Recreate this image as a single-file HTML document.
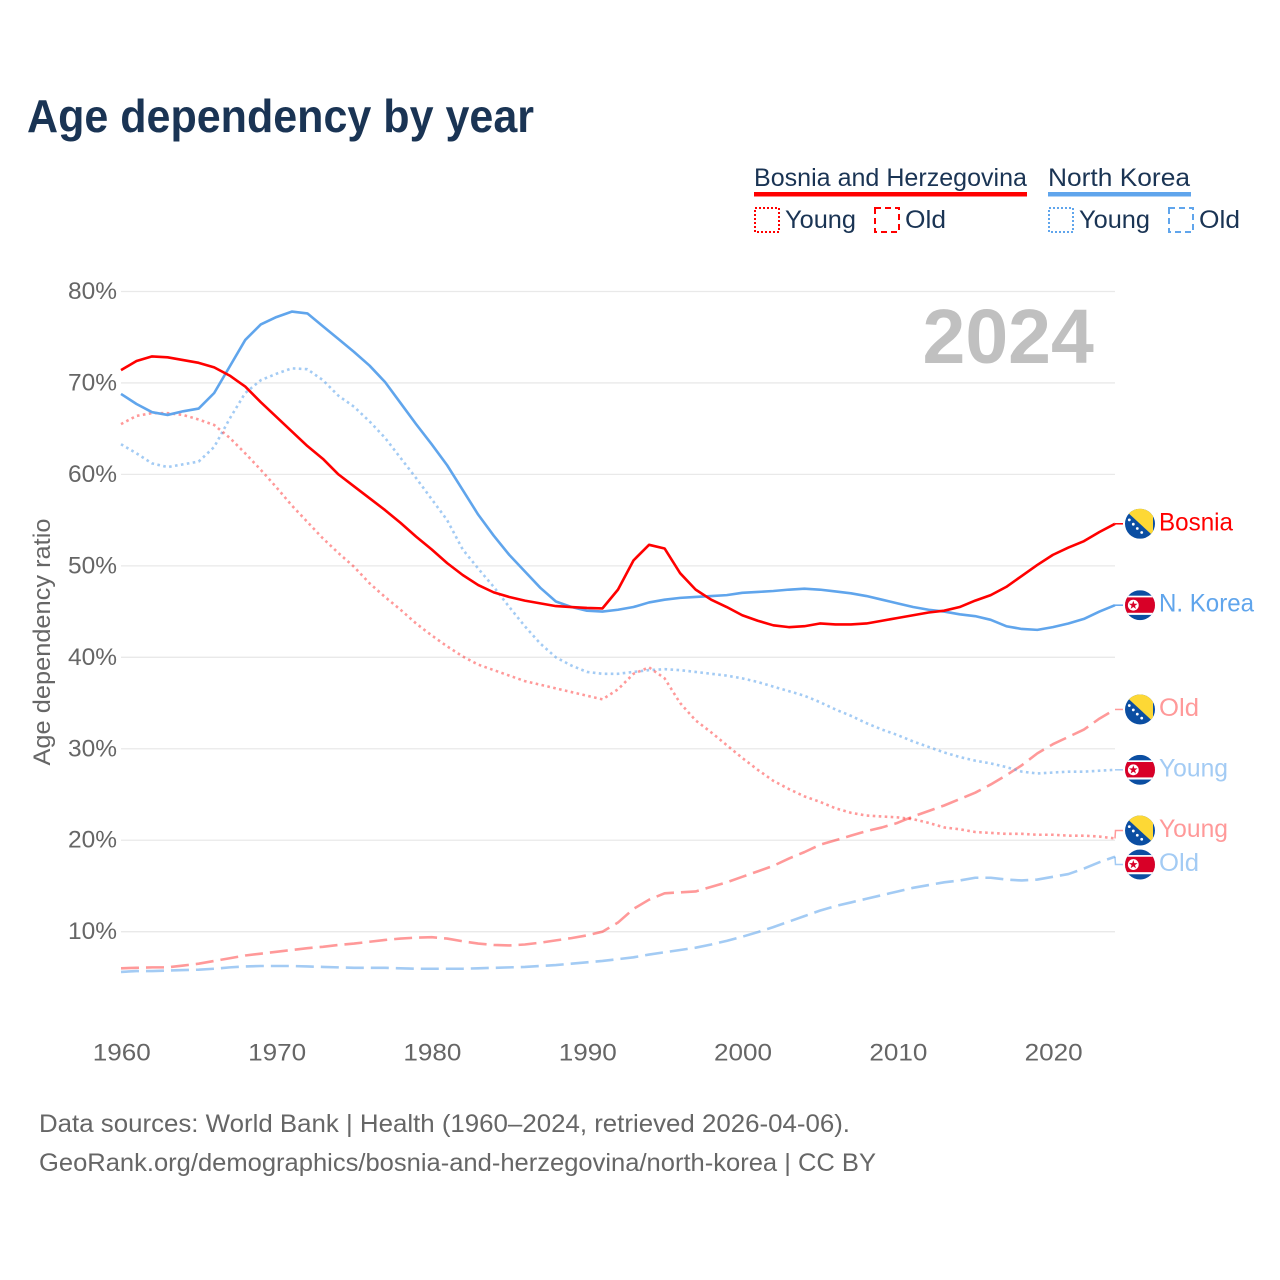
<!DOCTYPE html>
<html lang="en">
<head>
<meta charset="utf-8">
<title>Age dependency by year</title>
<style>
html,body{margin:0;padding:0;background:#fff;}
svg{display:block;font-family:"Liberation Sans",sans-serif;}
</style>
</head>
<body>
<svg id="chart" width="1280" height="1280" viewBox="0 0 1280 1280" xmlns="http://www.w3.org/2000/svg">
<defs>
<clipPath id="flag-clip"><circle cx="0" cy="0" r="15"/></clipPath>
<g id="flag-ba" clip-path="url(#flag-clip)">
<rect x="-15" y="-15" width="30" height="30" fill="#0b4ea2"/>
<polygon points="-20,-18.4 13,-18.4 13,12" fill="#fdd835"/>
<circle cx="-10.7" cy="-3.9" r="1.4" fill="#fff"/>
<circle cx="-6.7" cy="0.4" r="1.4" fill="#fff"/>
<circle cx="-2.7" cy="4.7" r="1.4" fill="#fff"/>
<circle cx="1.7" cy="8.7" r="1.4" fill="#fff"/>
</g>
<g id="flag-kp" clip-path="url(#flag-clip)">
<rect x="-15" y="-15" width="30" height="30" fill="#0b4ea2"/>
<rect x="-15" y="-9.5" width="30" height="19.2" fill="#fff"/>
<rect x="-15" y="-7.8" width="30" height="15.4" fill="#d80027"/>
<circle cx="-6.7" cy="0" r="5.4" fill="#fff"/>
<polygon transform="translate(-6.7,0)" points="0,-4.5 1.06,-1.46 4.28,-1.39 1.71,0.56 2.65,3.64 0,1.8 -2.65,3.64 -1.71,0.56 -4.28,-1.39 -1.06,-1.46" fill="#d80027"/>
</g>
</defs>

<rect x="0" y="0" width="1280" height="1280" fill="#fff"/>

<text x="27" y="132" font-size="46" font-weight="700" fill="#1a3454" textLength="507" lengthAdjust="spacingAndGlyphs">Age dependency by year</text>

<g>
<text x="754" y="186" font-size="25" fill="#1a3454" textLength="273" lengthAdjust="spacingAndGlyphs">Bosnia and Herzegovina</text>
<rect x="754" y="192" width="273" height="4.5" fill="#ff0000"/>
<rect x="755" y="208" width="24" height="24" fill="none" stroke="#ff0000" stroke-width="2" stroke-dasharray="2 2"/>
<text x="785" y="228" font-size="25" fill="#1a3454" textLength="71" lengthAdjust="spacingAndGlyphs">Young</text>
<rect x="875" y="208" width="24" height="24" fill="none" stroke="#ff0000" stroke-width="2" stroke-dasharray="6 4"/>
<text x="905" y="228" font-size="25" fill="#1a3454" textLength="41" lengthAdjust="spacingAndGlyphs">Old</text>

<text x="1048" y="186" font-size="25" fill="#1a3454" textLength="142" lengthAdjust="spacingAndGlyphs">North Korea</text>
<rect x="1048" y="192" width="143" height="4.5" fill="#60a5ec"/>
<rect x="1049" y="208" width="24" height="24" fill="none" stroke="#60a5ec" stroke-width="2" stroke-dasharray="2 2"/>
<text x="1079" y="228" font-size="25" fill="#1a3454" textLength="71" lengthAdjust="spacingAndGlyphs">Young</text>
<rect x="1169" y="208" width="24" height="24" fill="none" stroke="#60a5ec" stroke-width="2" stroke-dasharray="6 4"/>
<text x="1199" y="228" font-size="25" fill="#1a3454" textLength="41" lengthAdjust="spacingAndGlyphs">Old</text>
</g>

<g id="grid"></g>
<g id="yticks"></g>
<g id="xticks"></g>

<text transform="translate(50,642) rotate(-90)" text-anchor="middle" font-size="24" fill="#666" textLength="247" lengthAdjust="spacingAndGlyphs">Age dependency ratio</text>

<text x="922.5" y="363" font-size="77" font-weight="700" fill="#c0c0c0">2024</text>

<g id="series"></g>
<g id="endlabels"></g>

<text x="39" y="1132" font-size="25" fill="#666" textLength="811" lengthAdjust="spacingAndGlyphs">Data sources: World Bank | Health (1960–2024, retrieved 2026-04-06).</text>
<text x="39" y="1171" font-size="25" fill="#666" textLength="837" lengthAdjust="spacingAndGlyphs">GeoRank.org/demographics/bosnia-and-herzegovina/north-korea | CC BY</text>
</svg>

<script>
const startYear = 1960;
const yTickValues = [10, 20, 30, 40, 50, 60, 70, 80];
const xTickValues = [1960, 1970, 1980, 1990, 2000, 2010, 2020];

const bosniaTotal = [71.4,72.4,72.9,72.8,72.5,72.2,71.7,70.8,69.6,67.9,66.3,64.7,63.1,61.7,60.0,58.7,57.4,56.1,54.7,53.2,51.8,50.3,49.0,47.9,47.1,46.6,46.2,45.9,45.6,45.5,45.4,45.35,47.4,50.6,52.3,51.9,49.2,47.4,46.3,45.5,44.6,44.0,43.5,43.3,43.4,43.7,43.6,43.6,43.7,44.0,44.3,44.6,44.9,45.1,45.5,46.2,46.8,47.7,48.9,50.1,51.2,52.0,52.7,53.7,54.6];
const koreaTotal = [68.8,67.7,66.8,66.5,66.9,67.2,68.9,71.8,74.7,76.4,77.2,77.8,77.6,76.2,74.8,73.4,71.9,70.1,67.8,65.5,63.3,61.0,58.3,55.6,53.3,51.2,49.4,47.6,46.1,45.5,45.1,45.0,45.2,45.5,46.0,46.3,46.5,46.6,46.7,46.8,47.05,47.15,47.25,47.4,47.5,47.4,47.2,47.0,46.7,46.3,45.9,45.5,45.2,45.0,44.7,44.5,44.1,43.4,43.1,43.0,43.3,43.7,44.2,45.0,45.7];
const bosniaYoung = [65.5,66.4,66.7,66.7,66.5,66.0,65.4,64.0,62.3,60.5,58.6,56.6,54.8,53.0,51.4,49.9,48.1,46.6,45.2,43.7,42.4,41.2,40.1,39.2,38.6,38.0,37.4,37.0,36.6,36.2,35.8,35.4,36.5,38.2,38.9,37.7,35.0,33.1,31.8,30.4,29.0,27.7,26.5,25.6,24.8,24.2,23.5,23.0,22.7,22.6,22.5,22.3,21.9,21.4,21.2,20.9,20.8,20.7,20.7,20.6,20.6,20.5,20.5,20.4,20.2];
const koreaYoung = [63.3,62.3,61.2,60.8,61.1,61.4,63.0,66.1,68.9,70.3,71.0,71.6,71.5,70.3,68.6,67.4,65.8,64.0,61.8,59.6,57.3,55.0,51.8,49.7,47.7,45.5,43.4,41.5,40.0,39.1,38.4,38.2,38.2,38.4,38.6,38.7,38.6,38.4,38.2,38.0,37.7,37.3,36.8,36.3,35.8,35.1,34.3,33.6,32.8,32.1,31.5,30.8,30.2,29.6,29.1,28.7,28.4,28.0,27.5,27.3,27.4,27.5,27.5,27.6,27.7];
const bosniaOld = [6.0,6.05,6.1,6.1,6.3,6.5,6.8,7.1,7.4,7.6,7.8,8.0,8.2,8.35,8.55,8.7,8.9,9.1,9.25,9.35,9.4,9.25,8.95,8.7,8.55,8.5,8.6,8.8,9.05,9.3,9.6,10.0,11.0,12.5,13.5,14.2,14.3,14.4,14.9,15.4,16.0,16.6,17.2,18.0,18.7,19.5,20.0,20.5,21.0,21.4,21.9,22.6,23.2,23.8,24.5,25.2,26.1,27.1,28.2,29.5,30.5,31.3,32.1,33.3,34.3];
const koreaOld = [5.6,5.7,5.7,5.75,5.8,5.85,5.95,6.1,6.2,6.25,6.25,6.25,6.2,6.15,6.1,6.05,6.05,6.05,6.0,5.95,5.95,5.95,5.95,6.0,6.05,6.1,6.15,6.25,6.35,6.5,6.65,6.8,7.0,7.2,7.5,7.75,8.0,8.25,8.6,9.0,9.45,9.95,10.5,11.1,11.7,12.3,12.8,13.2,13.6,14.0,14.4,14.8,15.1,15.4,15.6,15.9,15.9,15.7,15.6,15.7,16.0,16.3,16.9,17.6,18.2];

const NS = "http://www.w3.org/2000/svg";
function xScale(year) { return 121 + (year - 1960) * 15.531; }
function yScale(v) { return 931.7 - (v - 10) * 9.146; }
function make(tag, attrs, parent) {
  const el = document.createElementNS(NS, tag);
  for (const k in attrs) el.setAttribute(k, attrs[k]);
  parent.appendChild(el);
  return el;
}

const gridG = document.getElementById('grid');
const yG = document.getElementById('yticks');
yTickValues.forEach(function (v) {
  const line = make('line', {x1: 121, x2: 1115, y1: yScale(v), y2: yScale(v), stroke: '#e9e9e9', 'stroke-width': 1.3}, gridG);
  
  
  const t = make('text', {x: 117, y: yScale(v) + 7.5, 'text-anchor': 'end', 'font-size': 24, fill: '#666', textLength: 49, lengthAdjust: 'spacingAndGlyphs'}, yG);
  
  
  t.textContent = v + '%';
});

const xG = document.getElementById('xticks');
xTickValues.forEach(function (year) {
  const t = make('text', {x: xScale(year) + 0.8, y: 1060.5, 'text-anchor': 'middle', 'font-size': 24, fill: '#666', textLength: 58, lengthAdjust: 'spacingAndGlyphs'}, xG);
  
  
  t.textContent = String(year);
});

const seriesG = document.getElementById('series');
function drawLine(values, name, color, opacity, width, dash) {
  const pts = values.map(function (v, i) { return xScale(startYear + i).toFixed(2) + ',' + yScale(v).toFixed(2); }).join(' ');
  const attrs = {points: pts, fill: 'none', stroke: color, 'stroke-opacity': opacity, 'stroke-width': width, 'stroke-linejoin': 'round'};
  if (dash) attrs['stroke-dasharray'] = dash;
  const el = make('polyline', attrs, seriesG);
  
  
}
drawLine(koreaOld, 'line-north-korea-old', '#60a5ec', 0.58, 2.6, '18 7');
drawLine(bosniaOld, 'line-bosnia-old', '#ff0000', 0.4, 2.6, '18 7');
drawLine(koreaYoung, 'line-north-korea-young', '#60a5ec', 0.58, 2.6, '2.6 3.4');
drawLine(bosniaYoung, 'line-bosnia-young', '#ff0000', 0.4, 2.6, '2.6 3.4');
drawLine(koreaTotal, 'line-north-korea-total', '#60a5ec', 1, 2.6, null);
drawLine(bosniaTotal, 'line-bosnia-total', '#ff0000', 1, 2.6, null);

const endItems = [
  {values: bosniaTotal, text: 'Bosnia', flag: 'flag-ba', color: '#ff0000', opacity: 1, width: 74},
  {values: koreaTotal, text: 'N. Korea', flag: 'flag-kp', color: '#60a5ec', opacity: 1, width: 95},
  {values: bosniaOld, text: 'Old', flag: 'flag-ba', color: '#ff0000', opacity: 0.4, width: 40},
  {values: koreaYoung, text: 'Young', flag: 'flag-kp', color: '#60a5ec', opacity: 0.58, width: 69},
  {values: bosniaYoung, text: 'Young', flag: 'flag-ba', color: '#ff0000', opacity: 0.4, width: 69},
  {values: koreaOld, text: 'Old', flag: 'flag-kp', color: '#60a5ec', opacity: 0.58, width: 40}
];
endItems.forEach(function (d) {
  d.yEnd = yScale(d.values[d.values.length - 1]);
  d.yLabel = d.yEnd;
});
endItems.sort(function (a, b) { return a.yEnd - b.yEnd; });
const minGap = 34;
for (let i = 1; i < endItems.length; i++) {
  const a = endItems[i - 1], b = endItems[i];
  if (b.yLabel - a.yLabel < minGap) {
    const mid = (a.yLabel + b.yLabel) / 2;
    a.yLabel = mid - minGap / 2;
    b.yLabel = mid + minGap / 2;
  }
}
const endG = document.getElementById('endlabels');
const xEnd = xScale(2024);
endItems.forEach(function (d) {
  const slug = d.text.toLowerCase().replace(/[^a-z]+/g, '-') + '-' + d.flag;
  const conn = make('polyline', {points: xEnd + ',' + d.yEnd + ' ' + (xEnd + 0.5) + ',' + d.yLabel + ' ' + (xEnd + 8) + ',' + d.yLabel, fill: 'none', stroke: d.color, 'stroke-opacity': d.opacity, 'stroke-width': 1.5}, endG);
  
  
  const flag = make('use', {href: '#' + d.flag, transform: 'translate(1140,' + d.yLabel + ')'}, endG);
  
  
  const t = make('text', {x: 1159, y: d.yLabel + 6.5, 'font-size': 25, fill: d.color, 'fill-opacity': d.opacity, textLength: d.width, lengthAdjust: 'spacingAndGlyphs'}, endG);
  
  
  t.textContent = d.text;
});
</script>
</body>
</html>
